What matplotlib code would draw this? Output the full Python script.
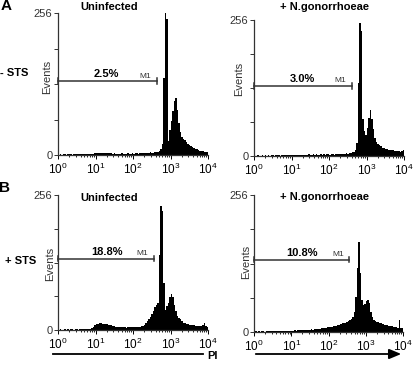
import numpy as np
import matplotlib
matplotlib.use('Agg')
import matplotlib.pyplot as plt
from matplotlib.ticker import LogLocator

plt.rcParams['font.family'] = ['Liberation Sans', 'DejaVu Sans']
plt.rcParams['mathtext.fontset'] = 'custom'
plt.rcParams['mathtext.rm'] = 'Liberation Sans'

# PI fluorescence histograms, 100 channels over 4 log decades (counts 0-256)
a_uninf = [0, 1, 0, 1, 1, 0, 1, 1, 1, 0, 1, 1, 1, 2, 1, 1, 2, 1, 2, 2,
           1, 2, 2, 2, 3, 3, 3, 4, 3, 4, 3, 3, 4, 3, 3, 3, 2, 3, 2, 2,
           2, 2, 3, 2, 2, 2, 3, 2, 2, 3, 2, 3, 3, 2, 3, 3, 3, 4, 4, 3,
           4, 5, 4, 4, 5, 6, 6, 8, 11, 20, 139, 256, 245, 26, 45, 62, 80, 97, 102, 82,
           58, 42, 33, 29, 27, 23, 20, 18, 16, 14, 12, 11, 10, 9, 8, 7, 7, 6, 5, 5]
a_gono = [0, 0, 1, 0, 0, 1, 0, 1, 0, 1, 0, 1, 1, 0, 1, 1, 1, 0, 1, 1,
          1, 1, 1, 2, 1, 1, 2, 1, 1, 2, 1, 2, 2, 1, 2, 2, 3, 2, 2, 3,
          2, 3, 2, 2, 3, 2, 3, 2, 3, 3, 2, 3, 3, 2, 3, 3, 3, 4, 3, 4,
          4, 5, 4, 5, 6, 7, 8, 12, 25, 137, 250, 235, 70, 48, 40, 52, 72, 87, 70, 50,
          33, 26, 22, 20, 18, 16, 15, 14, 13, 12, 12, 11, 11, 10, 10, 9, 9, 8, 9, 12]
b_uninf = [0, 1, 0, 0, 1, 0, 1, 0, 1, 1, 0, 1, 1, 0, 1, 1, 1, 1, 2, 1,
           2, 2, 3, 6, 9, 11, 12, 13, 13, 12, 12, 11, 11, 10, 9, 9, 8, 7, 6, 6,
           5, 5, 6, 5, 5, 4, 5, 5, 6, 5, 5, 6, 5, 6, 6, 7, 8, 10, 13, 17,
           21, 25, 30, 36, 44, 48, 52, 142, 235, 225, 90, 38, 45, 52, 62, 68, 63, 48, 36, 27,
           23, 20, 17, 14, 13, 12, 11, 10, 10, 9, 9, 8, 8, 8, 7, 7, 9, 14, 7, 5]
b_gono = [0, 1, 0, 1, 0, 1, 1, 0, 1, 1, 1, 1, 1, 1, 2, 1, 1, 2, 1, 2,
          1, 2, 2, 2, 2, 2, 2, 3, 2, 3, 3, 3, 3, 4, 3, 4, 4, 4, 5, 4,
          5, 5, 6, 5, 6, 7, 7, 8, 8, 9, 9, 10, 10, 11, 12, 12, 13, 14, 15, 16,
          16, 17, 19, 21, 23, 25, 28, 38, 65, 120, 169, 110, 60, 50, 52, 58, 60, 55, 38, 28,
          23, 20, 19, 18, 17, 16, 15, 14, 14, 13, 12, 12, 11, 10, 10, 9, 8, 22, 8, 7]

titles = ['Uninfected', '+ N.gonorrhoeae', 'Uninfected', '+ N.gonorrhoeae']
percents = ['2.5%', '3.0%', '18.8%', '10.8%']
gate_y = [133, 132, 135, 135]
gate_end = [437, 410, 363, 363]

edges = 10 ** np.linspace(0, 4, 101)

fig = plt.figure(figsize=(4.16, 3.66), dpi=100)
W, H = 416, 366

def px_axes(l, t, r, b):
    return fig.add_axes([l / W, 1 - b / H, (r - l) / W, (b - t) / H])

axes = [px_axes(58, 13, 208, 155), px_axes(254, 20, 404, 156),
        px_axes(58, 195, 208, 330), px_axes(254, 195, 403, 332)]
data = [a_uninf, a_gono, b_uninf, b_gono]
label_pos = [(-0.075, 0.55), (-0.1, 0.57), (-0.055, 0.49), (-0.055, 0.51)]

for i, ax in enumerate(axes):
    ax.stairs(data[i], edges, fill=True, color='black', lw=0)
    ax.set_xscale('log')
    ax.set_xlim(1, 1e4)
    ax.set_ylim(0, 256)
    ax.xaxis.set_major_locator(LogLocator(base=10, numticks=10))
    ax.xaxis.set_minor_locator(LogLocator(base=10, subs=np.arange(2, 10), numticks=10))
    for s in ['top', 'right']:
        ax.spines[s].set_visible(False)
    for s in ['left', 'bottom']:
        ax.spines[s].set_color('#333333')
        ax.spines[s].set_linewidth(0.9)
    ax.set_yticks([0, 64, 128, 192, 256])
    ax.set_yticklabels(['0', '', '', '', '256'])
    ax.tick_params(axis='y', length=3, width=0.7, pad=1, labelsize=8, colors='#333333')
    ax.tick_params(axis='x', which='major', length=3, width=0.7, pad=2, labelsize=8.5)
    ax.tick_params(axis='x', which='minor', length=1.5, width=0.6)
    ax.text(label_pos[i][0], label_pos[i][1], 'Events', rotation=90, ha='center',
            va='center', fontsize=8, color='#333333', transform=ax.transAxes)
    # M1 gate marker
    ax.plot([1, gate_end[i]], [gate_y[i], gate_y[i]], color='#333333', lw=1.1, clip_on=False)
    for xe in [1, gate_end[i]]:
        ax.plot([xe, xe], [gate_y[i] - 5, gate_y[i] + 5], color='#333333', lw=1.1, clip_on=False)
    ax.text(10 ** 1.3, gate_y[i] + 4, percents[i], ha='center', va='bottom',
            fontsize=8, fontweight='bold')
    ax.text(gate_end[i] * 0.5, gate_y[i] + 3, 'M1', ha='center', va='bottom',
            fontsize=6, color='#333333')

title_xy = [(109, 7), (324, 7), (109, 198), (325, 197)]
for t, (x, y) in zip(titles, title_xy):
    fig.text(x / W, 1 - y / H, t, ha='center', va='center', fontsize=8, fontweight='bold')

fig.text(6 / W, 1 - 6 / H, 'A', ha='center', va='center', fontsize=11, fontweight='bold')
fig.text(5 / W, 1 - 188 / H, 'B', ha='center', va='center', fontsize=11, fontweight='bold')
fig.text(14 / W, 1 - 73 / H, '- STS', ha='center', va='center', fontsize=8, fontweight='bold')
fig.text(21 / W, 1 - 261 / H, '+ STS', ha='center', va='center', fontsize=8, fontweight='bold')

# PI axis line and arrow at the bottom
fig.add_artist(plt.Line2D([53 / W, 203 / W], [1 - 354 / H, 1 - 354 / H], color='black', lw=1.3))
fig.add_artist(matplotlib.patches.FancyArrowPatch((253 / W, 1 - 354 / H), (404 / W, 1 - 354 / H),
               transform=fig.transFigure, arrowstyle='-|>,head_length=0.6,head_width=0.25',
               mutation_scale=12, color='black', lw=1.3))
fig.text(213 / W, 1 - 356 / H, 'PI', ha='center', va='center', fontsize=8, fontweight='bold')

fig.savefig('out.png', dpi=100)
